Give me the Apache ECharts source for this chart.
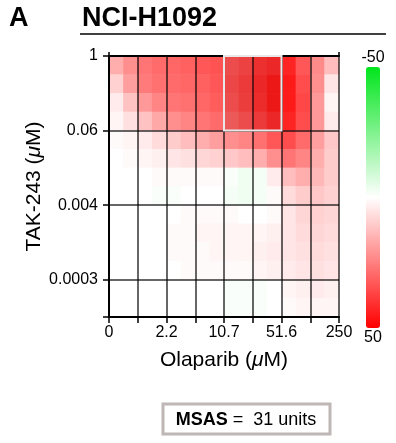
<!DOCTYPE html>
<html>
<head>
<meta charset="utf-8">
<script src="https://cdn.jsdelivr.net/npm/echarts@6/dist/echarts.min.js"></script>
<style>
html,body{margin:0;padding:0;background:#fff;}
#main{width:396px;height:443px;}
</style>
</head>
<body>
<div id="main"></div>
<script>
// Dose tick labels (gridlines), x: Olaparib, y: TAK-243 (top to bottom)
const xDoseLabels = ['0', '', '2.2', '', '10.7', '', '51.6', '', '250'];
const yDoseLabels = ['1', '', '0.06', '', '0.004', '', '0.0003', ''];

// Fine grid of synergy scores (16 columns x 14 rows, top row first)
const xCells = ['c0','c1','c2','c3','c4','c5','c6','c7','c8','c9','c10','c11','c12','c13','c14','c15'];
const yCells = ['r0','r1','r2','r3','r4','r5','r6','r7','r8','r9','r10','r11','r12','r13'];
const row0  = [16, 22, 27, 29, 30, 31, 33, 34, 35, 37, 41, 43, 43, 33, 23, 13];
const row1  = [ 9, 19, 26, 28, 29, 30, 31, 33, 36, 39, 43, 46, 45, 35, 22,  5];
const row2  = [ 4, 12, 20, 24, 27, 28, 30, 32, 35, 38, 42, 46, 45, 36, 20,  2];
const row3  = [ 2,  6, 12, 17, 22, 24, 27, 29, 32, 35, 39, 43, 43, 35, 20,  4];
const row4  = [ 1,  2,  4,  7, 10, 13, 16, 19, 22, 24, 28, 33, 35, 29, 19, 11];
const row5  = [ 0,  1,  2,  3,  5,  6,  8,  9, 11, 13, 16, 22, 27, 24, 16, 10];
const row6  = [ 0,  0,  0,  1,  1,  1,  1,  1, -1, -3, -2,  4, 13, 16, 14, 10];
const row7  = [ 0,  0,  0, -1, -1,  0,  0,  0, -2, -3, -2,  1,  7, 10, 11,  9];
const row8  = [ 0,  0,  0,  0,  0,  1,  1,  1,  1,  0,  0,  1,  5,  8,  9,  8];
const row9  = [ 0,  0,  0,  0,  1,  1,  2,  2,  2,  2,  2,  3,  5,  7,  8,  7];
const row10 = [ 0,  0,  0,  0,  1,  1,  1,  2,  2,  2,  3,  4,  5,  6,  7,  6];
const row11 = [ 0,  0,  0,  0,  0,  1,  1,  1,  1,  1,  2,  3,  4,  5,  6,  5];
const row12 = [ 0,  0,  0,  0,  0,  0,  0,  0, -1, -1, -1,  0,  2,  3,  4,  3];
const row13 = [ 0,  0,  0,  0,  0,  0,  0,  0, -1, -1, -1,  0,  1,  2,  2,  2];
const rows = [row0,row1,row2,row3,row4,row5,row6,row7,row8,row9,row10,row11,row12,row13];

// Most synergistic area (dose-grid indices)
const msasBox = [4, 0, 6, 2];
const msasValue = 31;
const scaleMin = -50, scaleMax = 50;

const heatData = [];
rows.forEach((r, j) => r.forEach((v, i) => heatData.push([i, j, v])));

const FONT = '"Liberation Sans", Arial, Helvetica, sans-serif';
const chart = echarts.init(document.getElementById('main'), null, {renderer: 'canvas'});

chart.setOption({
  animation: false,
  backgroundColor: '#fff',
  textStyle: {fontFamily: FONT},
  grid: {left: 109, top: 56, width: 230, height: 261, containLabel: false},
  xAxis: [
    {type: 'category', data: xCells, show: false, gridIndex: 0},
    {type: 'value', min: 0, max: 8, interval: 1, position: 'bottom', z: 5,
     axisLine: {show: true, lineStyle: {color: '#000', width: 2}},
     axisTick: {show: true, length: 6, lineStyle: {color: '#000', width: 1.5}},
     axisLabel: {formatter: v => xDoseLabels[v] || '', fontSize: 16, color: '#000', margin: 8, fontFamily: FONT},
     splitLine: {show: true, lineStyle: {color: 'rgba(0,0,0,0.8)', width: 1.5}},
     name: 'Olaparib ({i|μ}M)', nameLocation: 'middle', nameGap: 33, nameMoveOverlap: false,
     nameTextStyle: {fontSize: 21, color: '#000', fontFamily: FONT,
       rich: {i: {fontStyle: 'italic', fontSize: 21, fontFamily: FONT, color: '#000'}}}},
    {type: 'value', min: 0, max: 8, interval: 1, position: 'top', z: 5,
     axisLine: {show: true, lineStyle: {color: '#000', width: 2}},
     axisTick: {show: true, length: 4, customValues: [0, 8], lineStyle: {color: '#000', width: 1.5}},
     axisLabel: {show: false}, splitLine: {show: false}}
  ],
  yAxis: [
    {type: 'category', data: yCells, show: false, inverse: true, gridIndex: 0},
    {type: 'value', min: 0, max: 7, interval: 1, inverse: true, position: 'left', z: 5,
     axisLine: {show: true, lineStyle: {color: '#000', width: 2}},
     axisTick: {show: true, length: 6, customValues: [0, 2, 4, 6, 7], lineStyle: {color: '#000', width: 1.5}},
     axisLabel: {customValues: [0, 2, 4, 6], formatter: v => yDoseLabels[v] || '', fontSize: 16, color: '#000', margin: 11, fontFamily: FONT},
     splitLine: {show: true, lineStyle: {color: 'rgba(0,0,0,0.8)', width: 1.5}},
     name: 'TAK-243 ({i|μ}M)', nameLocation: 'middle', nameGap: 64, nameRotate: 90, nameMoveOverlap: false,
     nameTextStyle: {fontSize: 21, color: '#000', fontFamily: FONT,
       rich: {i: {fontStyle: 'italic', fontSize: 21, fontFamily: FONT, color: '#000'}}}}
  ],
  visualMap: {
    type: 'continuous', min: scaleMin, max: scaleMax, inverse: true, seriesIndex: 0,
    calculable: false, itemWidth: 14, itemHeight: 261, left: 366, top: 67, padding: 0,
    text: null, showLabel: false,
    inRange: {color: ['#00e51c', '#ffffff', '#ff0000']}
  },
  series: [
    {type: 'heatmap', xAxisIndex: 0, yAxisIndex: 0, data: heatData, z: 2,
     itemStyle: {borderWidth: 0}, emphasis: {disabled: true}, progressive: 0},
    {type: 'custom', xAxisIndex: 1, yAxisIndex: 1, data: [msasBox], z: 8, silent: true,
     renderItem: function (params, api) {
       const p0 = api.coord([api.value(0), api.value(1)]);
       const p1 = api.coord([api.value(2), api.value(3)]);
       return {type: 'rect',
         shape: {x: Math.min(p0[0], p1[0]), y: Math.min(p0[1], p1[1]),
                 width: Math.abs(p1[0] - p0[0]), height: Math.abs(p1[1] - p0[1])},
         style: {fill: 'rgba(70,70,70,0.1)', stroke: '#e8e8e8', lineWidth: 2}};
     }}
  ],
  graphic: [
    {type: 'text', left: 9, top: 5, style: {text: 'A', font: 'bold 27px ' + FONT, fill: '#000'}},
    {type: 'text', left: 82, top: 5, style: {text: 'NCI-H1092', font: 'bold 27px ' + FONT, fill: '#000'}},
    {type: 'line', shape: {x1: 80, y1: 34, x2: 386, y2: 34}, style: {stroke: '#000', lineWidth: 1.5}},
    {type: 'text', x: 373, y: 58, style: {text: String(scaleMin), font: '16px ' + FONT, fill: '#000', align: 'center', verticalAlign: 'middle'}},
    {type: 'text', x: 373, y: 338, style: {text: String(scaleMax), font: '16px ' + FONT, fill: '#000', align: 'center', verticalAlign: 'middle'}},
    {type: 'rect', shape: {x: 163, y: 404, width: 167, height: 30}, style: {fill: '#fff', stroke: '#bfb6b6', lineWidth: 3}},
    {type: 'text', x: 246, y: 420, style: {
      text: '{b|MSAS} =  ' + msasValue + ' units', align: 'center', verticalAlign: 'middle',
      font: '18px ' + FONT, fill: '#000',
      rich: {b: {fontWeight: 'bold', fontSize: 18, fontFamily: FONT, fill: '#000'}}}}
  ]
});
</script>
</body>
</html>
